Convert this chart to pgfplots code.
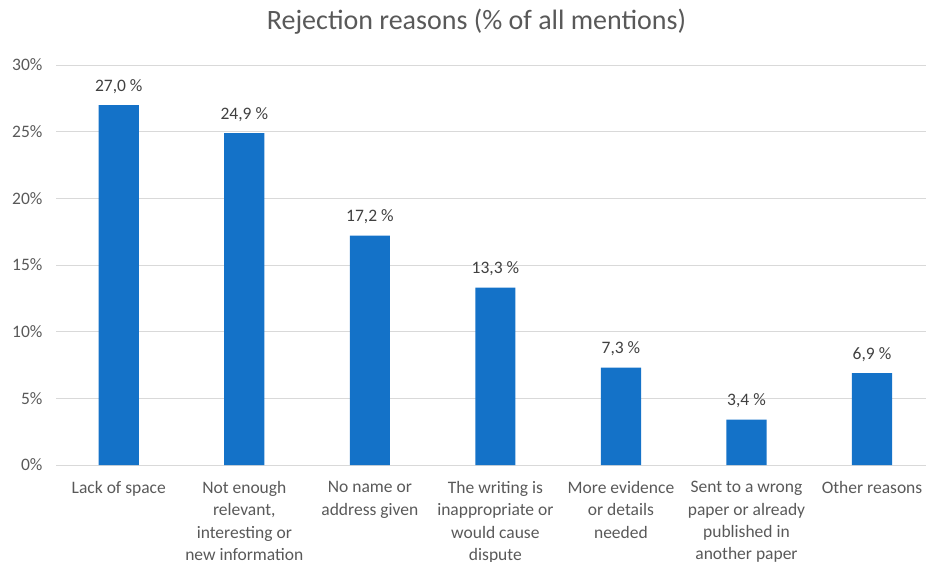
\documentclass[border=0pt]{standalone}
\usepackage{pgfplots}
\pgfplotsset{compat=1.18}
\usepackage{fontspec}
\setmainfont{Carlito}
\definecolor{barblue}{HTML}{1472C8}
\definecolor{gridgray}{HTML}{D9D9D9}
\definecolor{ticktext}{HTML}{595959}
\definecolor{labeltext}{HTML}{404040}

\begin{document}
\begin{tikzpicture}
\begin{axis}[
    at={(56pt,-465pt)}, anchor=south west,
    scale only axis,
    width=870pt, height=400pt,
    ybar, bar width=0.32,
    xmin=-0.5, xmax=6.43,
    ymin=0, ymax=30,
    ytick={0,5,...,30},
    yticklabel={\pgfmathprintnumber{\tick}\%},
    xtick=data,
    xticklabels={
        {Lack of space},
        {Not enough\\relevant,\\interesting or\\new information},
        {No name or\\address given},
        {The writing is\\inappropriate or\\would cause\\dispute},
        {More evidence\\or details\\needed},
        {Sent to a wrong\\paper or already\\published in\\another paper},
        {Other reasons}},
    /pgf/number format/assume math mode=true,
    axis line style={draw=none},
    axis x line*=bottom,
    x axis line style={draw=gridgray, line width=1pt},
    ymajorgrids, grid style={gridgray, line width=1pt},
    major tick length=0pt,
    tick label style={font=\fontsize{17.5}{22.3}\selectfont, text=ticktext},
    yticklabel style={xshift=-10pt},
    xticklabel style={align=center, yshift=-13pt},
    nodes near coords={\pgfmathprintnumber[fixed,fixed zerofill,precision=1,use comma]{\pgfplotspointmeta} \%},
    every node near coord/.append style={font=\fontsize{17.5}{21}\selectfont, text=labeltext, yshift=8pt},
]
\addplot[fill=barblue, draw=none] coordinates {
    (0,27.0) (1,24.9) (2,17.2) (3,13.3) (4,7.3) (5,3.4) (6,6.9)
};
\end{axis}
\node[font=\fontsize{28}{32}\selectfont, text=ticktext] at (476.5pt,-22pt) {Rejection reasons (\% of all mentions)};
\pgfresetboundingbox
\path[use as bounding box] (0,0) rectangle (926pt,-562pt);
\end{tikzpicture}
\end{document}
